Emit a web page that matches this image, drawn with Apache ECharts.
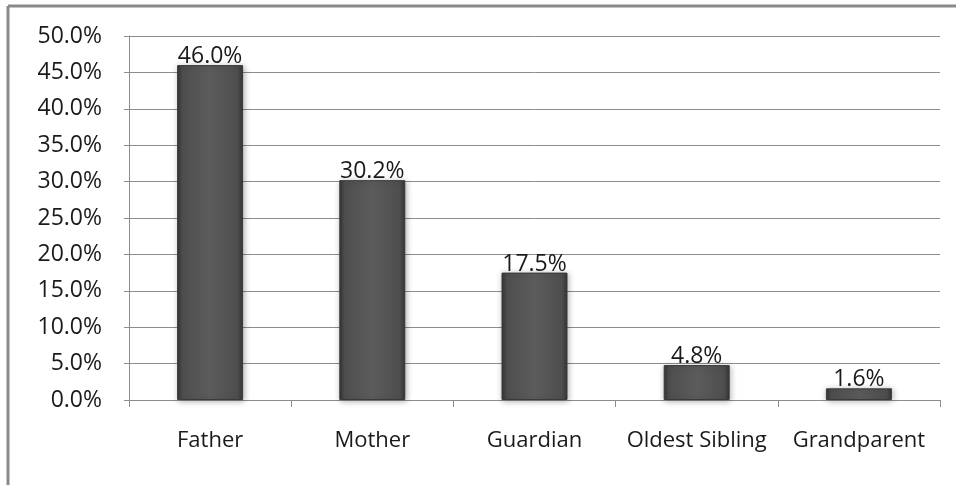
<!DOCTYPE html>
<html>
<head>
<meta charset="utf-8">
<script src="https://cdn.jsdelivr.net/npm/echarts@6/dist/echarts.min.js"></script>
<style>
  html, body { margin: 0; padding: 0; background: #fff; }
  #chart { width: 956px; height: 485px; }
</style>
</head>
<body>
<div id="chart"></div>
<script>
// Who the respondent lives with / answered for (share of responses)
const categories = ['Father', 'Mother', 'Guardian', 'Oldest Sibling', 'Grandparent'];
const shares = [46.0, 30.2, 17.5, 4.8, 1.6];
const yTicks = { min: 0, max: 50, interval: 5 };

const fontFamily = '"Open Sans", "Liberation Sans", sans-serif';

// Bevelled dark grey bar fill: darker toward the sides, lighter in the middle
const barFill = new echarts.graphic.LinearGradient(0, 0, 1, 0, [
  { offset: 0, color: '#343434' },
  { offset: 0.08, color: '#4e4e4e' },
  { offset: 0.5, color: '#5c5c5c' },
  { offset: 0.92, color: '#4e4e4e' },
  { offset: 1, color: '#343434' }
]);

const chart = echarts.init(document.getElementById('chart'), null, { renderer: 'canvas' });

chart.setOption({
  backgroundColor: '#ffffff',
  animation: false,
  grid: { left: 129, right: 16, top: 36, bottom: 85, containLabel: false },
  graphic: [
    { type: 'line', shape: { x1: 8, y1: 6, x2: 956, y2: 6 }, style: { stroke: '#8a8a8a', lineWidth: 3 } },
    { type: 'line', shape: { x1: 8, y1: 6, x2: 8, y2: 485 }, style: { stroke: '#8a8a8a', lineWidth: 3 } }
  ],
  xAxis: {
    type: 'category',
    data: categories,
    axisLine: { lineStyle: { color: '#8c8c8c', width: 1 } },
    axisTick: { show: true, length: 7, lineStyle: { color: '#8c8c8c' } },
    axisLabel: { interval: 0, color: '#1a1a1a', fontSize: 22, fontFamily: fontFamily, margin: 30 }
  },
  yAxis: {
    type: 'value',
    min: yTicks.min,
    max: yTicks.max,
    interval: yTicks.interval,
    axisLine: { show: true, lineStyle: { color: '#8c8c8c', width: 1 } },
    axisTick: { show: true, length: 5, lineStyle: { color: '#8c8c8c' } },
    axisLabel: {
      color: '#1a1a1a', fontSize: 23, fontFamily: fontFamily, margin: 27,
      formatter: v => v.toFixed(1) + '%'
    },
    splitLine: { show: true, lineStyle: { color: '#8c8c8c', width: 1 } }
  },
  series: [{
    type: 'bar',
    data: shares,
    barWidth: 66,
    itemStyle: {
      color: barFill,
      borderColor: '#3a3a3a',
      borderWidth: 1,
      shadowColor: 'rgba(0,0,0,0.3)',
      shadowBlur: 6,
      shadowOffsetX: 1,
      shadowOffsetY: 1
    },
    label: {
      show: true,
      position: 'top',
      distance: -3,
      color: '#1a1a1a',
      fontSize: 23,
      fontFamily: fontFamily,
      formatter: p => p.value.toFixed(1) + '%'
    }
  }]
});
</script>
</body>
</html>
